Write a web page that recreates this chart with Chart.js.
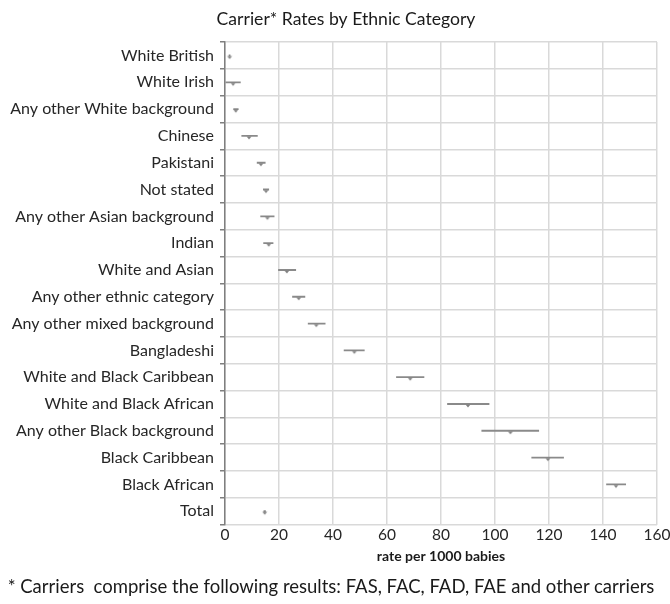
<!DOCTYPE html>
<html lang="en">
<head>
    <meta charset="UTF-8">
    <title>Carrier Rates by Ethnic Category</title>
    <script src="https://cdn.jsdelivr.net/npm/chart.js"></script>
    <style>
        * { margin: 0; padding: 0; box-sizing: border-box; }
        body { background: #ffffff; width: 670px; height: 604px; overflow: hidden; position: relative; }
        #wrap { width: 670px; height: 604px; }
        #note {
            position: absolute; left: 0; top: 575px; width: 662px;
            text-align: center; font-family: Lato, "Open Sans", sans-serif;
            font-size: 18.5px; color: #1a1a1a; white-space: pre;
        }
    </style>
</head>
<body>
    <div id="wrap"><canvas id="chart"></canvas></div>
    <div id="note">* Carriers  comprise the following results: FAS, FAC, FAD, FAE and other carriers</div>

    <script>
        const categories = [
            'White British', 'White Irish', 'Any other White background', 'Chinese',
            'Pakistani', 'Not stated', 'Any other Asian background', 'Indian',
            'White and Asian', 'Any other ethnic category', 'Any other mixed background',
            'Bangladeshi', 'White and Black Caribbean', 'White and Black African',
            'Any other Black background', 'Black Caribbean', 'Black African', 'Total'
        ];
        const rates = [1.7, 3.0, 4.0, 8.9, 13.3, 15.2, 15.7, 16.2, 22.9, 27.3, 33.8, 47.9, 68.6, 90.0, 105.7, 119.6, 144.8, 14.7];
        const lower = [1.5, 0.3, 3.2, 6.2, 11.9, 14.2, 13.2, 14.3, 19.8, 25.0, 30.8, 44.1, 63.5, 82.4, 95.1, 113.6, 141.3, 14.4];
        const upper = [1.9, 5.7, 4.9, 12.0, 14.9, 16.2, 18.2, 17.8, 26.2, 29.6, 37.1, 51.6, 73.7, 97.8, 116.2, 125.4, 148.4, 15.0];
        const xTicks = [0, 20, 40, 60, 80, 100, 120, 140, 160];

        const FONT = 'Lato, "Open Sans", sans-serif';

        // small "v" marker sitting just under the range line
        const marker = document.createElement('canvas');
        marker.width = 8;
        marker.height = 12;
        const mctx = marker.getContext('2d');
        mctx.fillStyle = '#808080';
        mctx.beginPath();
        mctx.moveTo(1.5, 6.5);
        mctx.lineTo(6.5, 6.5);
        mctx.lineTo(4, 9.5);
        mctx.closePath();
        mctx.fill();

        // the title sits a little right of the page centre, over the plot
        const titleShift = {
            id: 'titleShift',
            afterLayout(chart) {
                if (chart.titleBlock) chart.titleBlock.left += 35;
            }
        };

        new Chart(document.getElementById('chart'), {
            type: 'bar',
            data: {
                labels: categories,
                datasets: [
                    {
                        label: 'range',
                        data: categories.map((c, i) => [lower[i], upper[i]]),
                        backgroundColor: '#8a8a8a',
                        borderWidth: 0,
                        barThickness: 1.2,
                        order: 2
                    },
                    {
                        type: 'line',
                        label: 'rate',
                        data: rates,
                        showLine: false,
                        pointStyle: marker,
                        pointRadius: 4,
                        order: 1
                    }
                ]
            },
            plugins: [titleShift],
            options: {
                indexAxis: 'y',
                responsive: true,
                maintainAspectRatio: false,
                animation: false,
                layout: { padding: { left: 0, right: 13, top: 9, bottom: 39 } },
                plugins: {
                    legend: { display: false },
                    tooltip: { enabled: false },
                    title: {
                        display: true,
                        text: 'Carrier* Rates by Ethnic Category',
                        color: '#1a1a1a',
                        font: { family: FONT, size: 17.6, weight: 'normal' },
                        padding: { top: 0, bottom: 12 }
                    }
                },
                scales: {
                    x: {
                        type: 'linear',
                        min: 0,
                        max: 160,
                        afterBuildTicks: (axis) => { axis.ticks = xTicks.map(v => ({ value: v })); },
                        afterFit: (axis) => { axis.paddingRight = 0; axis.paddingLeft = 0; },
                        grid: { color: '#d9d9d9', lineWidth: 1.5, drawTicks: false },
                        border: { display: false },
                        ticks: { color: '#262626', font: { family: FONT, size: 15.5 }, padding: 1 },
                        title: {
                            display: true,
                            text: 'rate per 1000 babies',
                            color: '#1a1a1a',
                            font: { family: FONT, size: 14, weight: 'bold' },
                            padding: { top: 3, bottom: 0 }
                        }
                    },
                    y: {
                        type: 'category',
                        afterFit: (axis) => { axis.width = 225; },
                        grid: { color: '#d9d9d9', lineWidth: 1.5, offset: true, tickLength: 5, tickColor: '#7f7f7f' },
                        border: { display: true, color: '#7f7f7f', width: 1.5 },
                        ticks: { color: '#262626', font: { family: FONT, size: 16 }, padding: 6, autoSkip: false }
                    }
                }
            }
        });
    </script>
</body>
</html>
